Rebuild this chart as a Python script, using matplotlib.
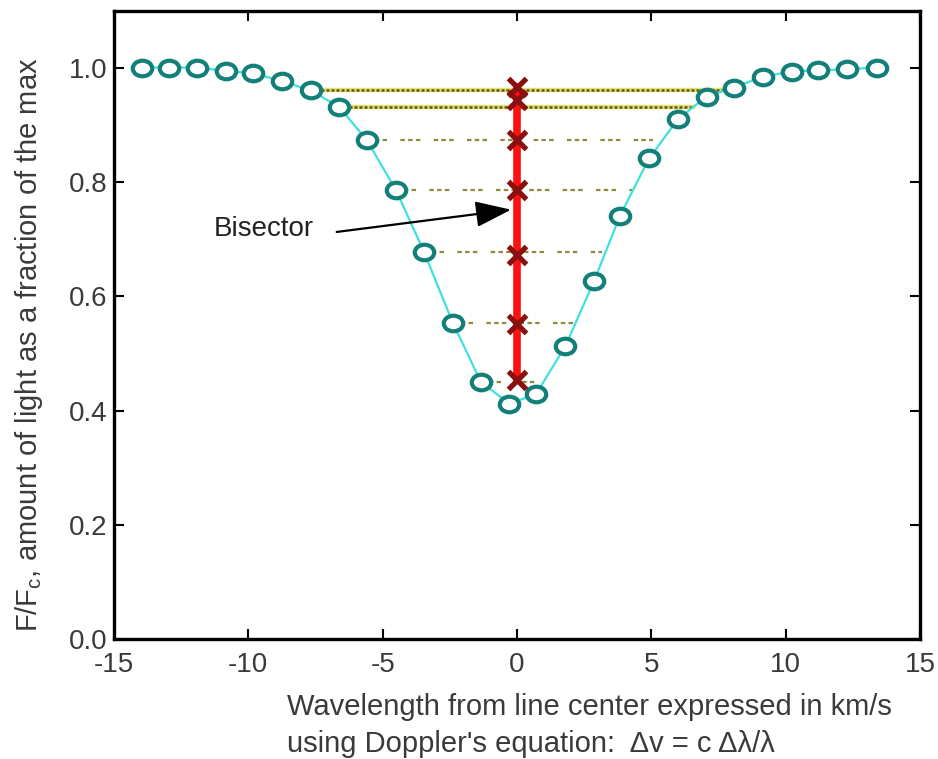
import numpy as np
import matplotlib
matplotlib.use("Agg")
import matplotlib.pyplot as plt
from matplotlib.path import Path
from matplotlib.transforms import Affine2D

plt.rcParams['font.family'] = ['Liberation Sans', 'DejaVu Sans']
plt.rcParams['mathtext.fontset'] = 'custom'
plt.rcParams['mathtext.rm'] = 'Liberation Sans'
plt.rcParams['mathtext.it'] = 'Liberation Sans'

# line profile (velocity in km/s, normalised flux)
profile_v = [-13.97, -12.95, -11.90, -10.84, -9.81, -8.73, -7.68, -6.62, -5.59,
             -4.50, -3.46, -2.39, -1.35, -0.29, 0.71, 1.80, 2.87, 3.83, 4.92,
             6.00, 7.06, 8.08, 9.14, 10.22, 11.21, 12.27, 13.39]
profile_f = [1.001, 1.001, 1.001, 0.995, 0.991, 0.977, 0.961, 0.932, 0.874,
             0.786, 0.678, 0.554, 0.451, 0.412, 0.429, 0.513, 0.627, 0.741,
             0.842, 0.911, 0.950, 0.966, 0.985, 0.994, 0.996, 0.998, 1.001]

# chords across the line (start at the blue wing points, end at the red wing)
chord_left = [-7.68, -6.62, -5.59, -4.50, -3.46, -2.39, -1.35]
chord_right = [7.67, 6.55, 5.06, 4.27, 3.15, 2.22, 0.97]
chord_f = [0.961, 0.932, 0.874, 0.786, 0.678, 0.554, 0.451]

# bisector points
bisector_v = [0.0, 0.0, 0.0, 0.0, 0.0, 0.0, 0.0]
bisector_f = [0.454, 0.551, 0.672, 0.786, 0.874, 0.944, 0.967]

xticks = [-15, -10, -5, 0, 5, 10, 15]
yticks = [0.0, 0.2, 0.4, 0.6, 0.8, 1.0]

text_col = '#3a3a3a'
fs = 20
label_fs = 21

# slightly flattened open circle, like the original markers
oval = Path.unit_circle().transformed(Affine2D().scale(1.0, 0.8))

fig = plt.figure(figsize=(9.38, 7.59), dpi=100)
ax = fig.add_axes([0.1215, 0.1581, 0.8593, 0.8274])

# chords: top two dotted yellow, the rest sparse dashes
for i in range(len(chord_f)):
    xs = [chord_left[i], chord_right[i]]
    ys = [chord_f[i], chord_f[i]]
    if i < 2:
        ax.plot(xs, ys, color='#e6e070', lw=3.2, zorder=1)
        ax.plot(xs, ys, color='#5e5a10', lw=1.8, ls=(0, (1.2, 0.8)), zorder=1)
    else:
        ax.plot(xs, ys, color='#8f8a3c', lw=1.6, ls=(0, (2, 1.5, 2, 1.5, 2, 6)), zorder=1)

ax.plot(profile_v, profile_f, color='#40e0e0', lw=1.6, zorder=2)
ax.plot(profile_v, profile_f, ls='none', marker=oval, ms=14, mfc='white',
        mec='#128078', mew=3.0, zorder=3)

ax.plot(bisector_v, bisector_f, color='#ff1010', lw=5.5, zorder=4)
ax.plot(bisector_v, bisector_f, ls='none', marker='x', ms=13, mew=3.8,
        color='#8a1010', zorder=5)

ax.text(-11.3, 0.719, 'Bisector', fontsize=fs, color='#222222',
        va='center', ha='left')
ax.annotate('', xy=(-0.22, 0.752), xytext=(-6.71, 0.713),
            arrowprops=dict(arrowstyle='-|>,head_length=1.1,head_width=0.4',
                            mutation_scale=20, color='black', lw=1.6,
                            shrinkA=0, shrinkB=0))

ax.set_xlim(-15, 15)
ax.set_ylim(0, 1.1)
ax.set_xticks(xticks)
ax.set_yticks(yticks)
ax.set_xticklabels([str(t) for t in xticks])
ax.set_yticklabels(['%.1f' % t for t in yticks])
ax.tick_params(direction='in', length=7, width=1.5, top=True, right=True,
               labelsize=fs, labelcolor=text_col, pad=5)
ax.tick_params(axis='x', pad=9)
for sp in ax.spines.values():
    sp.set_linewidth(2.4)

fig.text(0.031, 0.546, 'F/F$_{\\mathrm{c}}$, amount of light as a fraction of the max',
         rotation=90, ha='center', va='center', fontsize=label_fs, color=text_col)
fig.text(0.306, 0.068, 'Wavelength from line center expressed in km/s',
         ha='left', va='center', fontsize=label_fs, color=text_col)
fig.text(0.306, 0.020, "using Doppler's equation:  \u0394v = c \u0394\u03bb/\u03bb",
         ha='left', va='center', fontsize=label_fs, color=text_col)

fig.savefig('out.png', dpi=100)
